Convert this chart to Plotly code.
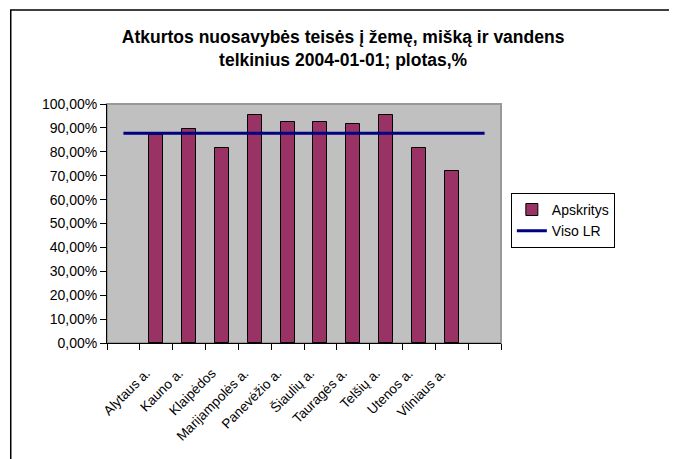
import plotly.graph_objects as go

# Regions (apskritys) and share of restored land ownership rights
regions = ["Alytaus a.", "Kauno a.", "Klaipėdos", "Marijampolės a.", "Panevėžio a.",
           "Šiaulių a.", "Tauragės a.", "Telšių a.", "Utenos a.", "Vilniaus a."]
shares = [0.869, 0.897, 0.816, 0.954, 0.925, 0.925, 0.916, 0.954, 0.816, 0.721]
viso_lr = 0.878

y_ticks = [0.0, 0.1, 0.2, 0.3, 0.4, 0.5, 0.6, 0.7, 0.8, 0.9, 1.0]
y_labels = ["0,00%", "10,00%", "20,00%", "30,00%", "40,00%", "50,00%",
            "60,00%", "70,00%", "80,00%", "90,00%", "100,00%"]

# category slots: empty slot at each end, regions in between
bar_x = list(range(1, len(regions) + 1))
line_x = list(range(0, len(regions) + 2))

FONT = "Liberation Sans, Arial, sans-serif"

fig = go.Figure()

fig.add_trace(go.Bar(
    x=bar_x, y=shares, name="Apskritys", width=0.43,
    marker=dict(color="#993366", line=dict(color="black", width=1)),
))
fig.add_trace(go.Scatter(
    x=line_x, y=[viso_lr] * len(line_x), name="Viso LR", mode="lines",
    line=dict(color="#000080", width=3),
))

# outer chart border and plot area frame
fig.add_shape(type="rect", xref="paper", yref="paper",
              x0=-0.2443, x1=1.4326, y0=-0.6, y1=1.393,
              line=dict(color="black", width=1.5), layer="below")
fig.add_shape(type="rect", xref="paper", yref="paper",
              x0=0, x1=1, y0=0, y1=1,
              line=dict(color="#999999", width=2), layer="below")

# page body adds 8px offset, margins compensate for it
fig.update_layout(
    width=677, height=459,
    margin=dict(l=99, r=184, t=96, b=124),
    paper_bgcolor="white", plot_bgcolor="#C0C0C0",
    font=dict(family=FONT, size=12, color="black"),
    title=dict(
        text="<b>Atkurtos nuosavybės teisės į žemę, mišką ir vandens<br>telkinius 2004-01-01; plotas,%</b>",
        font=dict(family=FONT, size=17.5, color="black"),
        x=0.495, xref="container", xanchor="center",
        y=0.923, yref="container", yanchor="top",
    ),
    showlegend=True,
    legend=dict(
        x=1.025, y=0.628, xanchor="left", yanchor="top",
        bordercolor="black", borderwidth=1, bgcolor="white",
        font=dict(family=FONT, size=14), tracegroupgap=0, itemwidth=30,
    ),
    bargap=0,
)

fig.update_xaxes(
    range=[-0.5, len(regions) + 1.5],
    tickmode="array", tickvals=bar_x, ticktext=regions,
    tickangle=-45, tickfont=dict(family=FONT, size=13.5),
    ticklabelstandoff=16, ticklabelshift=-10,
    ticks="", showgrid=False, zeroline=False,
    showline=True, linecolor="black", linewidth=1,
    minor=dict(tickmode="linear", tick0=-0.5, dtick=1, ticks="outside",
               ticklen=6, tickcolor="black", showgrid=False),
)
fig.update_yaxes(
    range=[0, 1.0],
    tickmode="array", tickvals=y_ticks, ticktext=y_labels,
    tickfont=dict(family=FONT, size=14),
    ticks="outside", ticklen=6, tickcolor="black",
    showgrid=False, zeroline=False,
    showline=True, linecolor="black", linewidth=1,
)

fig.write_html("out.html")
